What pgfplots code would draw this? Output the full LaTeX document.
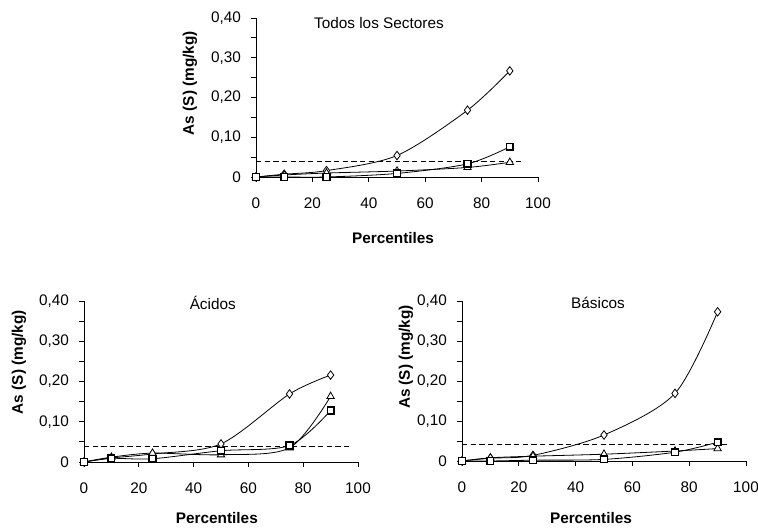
\documentclass[border=0pt]{standalone}
\usepackage{fontspec}
\setmainfont{Liberation Sans}
\usepackage{pgfplots}
\pgfplotsset{compat=1.18}

\pgfplotsset{
  panel/.style={
    scale only axis,
    xmin=0, xmax=100, ymin=0, ymax=0.4,
    axis x line=bottom, axis y line=left,
    axis line style={-, line width=0.7pt},
    xtick={0,20,...,100},
    ytick={0,0.1,0.2,0.3,0.4},
    yticklabels={0,{0,10},{0,20},{0,30},{0,40}},
    minor y tick num=1,
    tick align=outside,
    major tick length=3.75pt, minor tick length=3.75pt,
    every tick/.style={black, line width=0.7pt},
    /pgf/number format/assume math mode=true,
    tick label style={font=\fontsize{11.5}{13}\selectfont},
    xticklabel style={yshift=-8.5pt},
    yticklabel style={xshift=-4pt},
    label style={font=\fontsize{11.5}{13}\selectfont\bfseries},
    ylabel={As (S) (mg/kg)},
    xlabel={Percentiles},
    every axis title shift=0pt,
    title style={font=\fontsize{11.5}{13}\selectfont, anchor=center, yshift=0pt},
    clip=false,
  },
  ser/.style={black, line width=0.6pt, smooth, tension=0.5},
  dia/.style={ser, mark=diamond*, mark options={fill=white, solid, scale=1.6}},
  sq/.style={ser, mark=square*, mark options={fill=white, solid, line width=1.1pt, scale=1.25}},
  tri/.style={ser, mark=triangle*, mark options={fill=white, solid, scale=1.6}},
  lim/.style={black, line width=0.7pt, dash pattern=on 4pt off 2.5pt},
}

\begin{document}
\begin{tikzpicture}
\useasboundingbox (0,0) rectangle (568.5pt,396pt);

% Todos los Sectores
\begin{axis}[panel, at={(192pt,263.25pt)}, anchor=south west,
  width=211.5pt, height=119.25pt,
  title={Todos los Sectores}, title style={at={(axis description cs:0.436,0.969)}},
  xlabel style={at={(axis description cs:0.486,-0.384)}, anchor=center},
  ylabel style={at={(axis description cs:-0.234,0.59)}, anchor=center}]
\addplot[dia] coordinates {(0,0) (10,0.007) (25,0.016) (50,0.054) (75,0.168) (90,0.267)};
\addplot[tri] coordinates {(0,0) (10,0.005) (25,0.010) (50,0.015) (75,0.024) (90,0.037)};
\addplot[sq] coordinates {(0,0) (10,0) (25,0) (50,0.009) (75,0.033) (90,0.076)};
\addplot[lim] coordinates {(0,0.04) (95,0.04)};
\end{axis}

% Acidos
\begin{axis}[panel, at={(63pt,49.5pt)}, anchor=south west,
  width=205.5pt, height=120.75pt,
  title={Ácidos}, title style={at={(axis description cs:0.47,0.988)}},
  xlabel style={at={(axis description cs:0.485,-0.348)}, anchor=center},
  ylabel style={at={(axis description cs:-0.237,0.62)}, anchor=center}]
\addplot[dia] coordinates {(0,0) (10,0.010) (25,0.020) (50,0.045) (75,0.169) (90,0.216)};
\addplot[tri] coordinates {(0,0) (10,0.012) (25,0.022) (50,0.018) (75,0.035) (90,0.163)};
\addplot[sq] coordinates {(0,0) (10,0.009) (25,0.008) (50,0.028) (75,0.041) (90,0.128)};
\addplot[lim] coordinates {(0,0.038) (98,0.038)};
\end{axis}

% Basicos
\begin{axis}[panel, at={(346.5pt,50.25pt)}, anchor=south west,
  width=213pt, height=120pt,
  title={Básicos}, title style={at={(axis description cs:0.479,0.99)}},
  xlabel style={at={(axis description cs:0.454,-0.356)}, anchor=center},
  ylabel style={at={(axis description cs:-0.197,0.65)}, anchor=center}]
\addplot[dia] coordinates {(0,0) (10,0.007) (25,0.014) (50,0.065) (75,0.169) (90,0.373)};
\addplot[tri] coordinates {(0,0) (10,0.008) (25,0.012) (50,0.017) (75,0.025) (90,0.031)};
\addplot[sq] coordinates {(0,0) (10,0) (25,0.002) (50,0.004) (75,0.022) (90,0.047)};
\addplot[lim] coordinates {(0,0.041) (94,0.041)};
\end{axis}
\end{tikzpicture}
\end{document}
